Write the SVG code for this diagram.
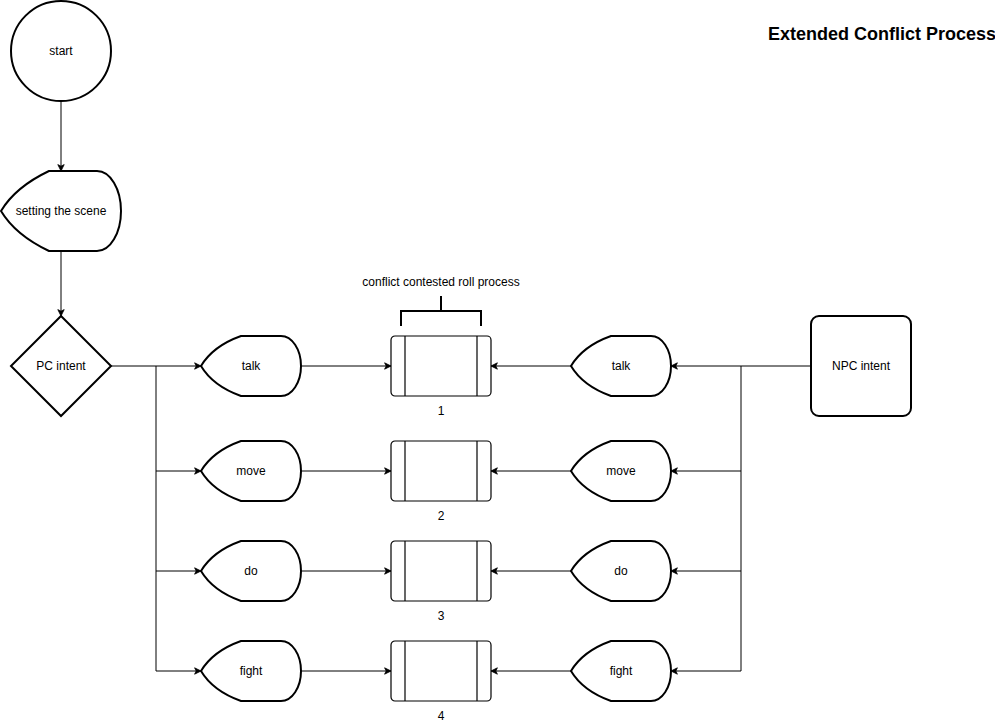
<svg xmlns="http://www.w3.org/2000/svg" width="995" height="722" viewBox="0 0 995 722">
  <style>
    .shape { fill: #ffffff; stroke: #000000; stroke-width: 2; }
    .box { fill: #ffffff; stroke: #000000; stroke-width: 1.2; }
    .edge { fill: none; stroke: #000000; stroke-width: 1; }
    .bracket { fill: none; stroke: #000000; stroke-width: 2; }
    .label { font-family: "Liberation Sans", Arial, sans-serif; font-size: 12px; fill: #000000; text-anchor: middle; dominant-baseline: central; }
    .title { font-family: "Liberation Sans", Arial, sans-serif; font-size: 18px; font-weight: bold; fill: #000000; text-anchor: end; dominant-baseline: central; }
  </style>
  <defs>
    <marker id="arrow" viewBox="0 0 10 10" refX="9" refY="5" markerWidth="8" markerHeight="8" markerUnits="userSpaceOnUse" orient="auto">
      <path d="M1,1 L9,5 L1,9 L3,5 Z" fill="#000000" stroke="#000000" stroke-width="1"/>
    </marker>
    <!-- display shape, 100x60, origin at top-left -->
    <path id="display" d="M0,30 Q12,10 40,0 L80,0 A20 30 0 0 1 100,30 A20 30 0 0 1 80,60 L40,60 Q12,50 0,30 Z"/>
    <!-- predefined process box, 100x60 -->
    <g id="process">
      <rect x="0" y="0" width="100" height="60" rx="4" ry="4" class="box"/>
      <line x1="14" y1="0" x2="14" y2="60" class="box"/>
      <line x1="86" y1="0" x2="86" y2="60" class="box"/>
    </g>
  </defs>

  <rect x="0" y="0" width="995" height="722" fill="#ffffff"/>

  <text class="title" x="996" y="34">Extended Conflict Process</text>

  <g id="connectors">
    <path class="edge" d="M61,101 L61,171" marker-end="url(#arrow)"/>
    <path class="edge" d="M61,251 L61,316" marker-end="url(#arrow)"/>
    <!-- PC intent fan-out -->
    <path class="edge" d="M111,366 L201,366" marker-end="url(#arrow)"/>
    <path class="edge" d="M156,366 L156,671"/>
    <path class="edge" d="M156,471 L201,471" marker-end="url(#arrow)"/>
    <path class="edge" d="M156,571 L201,571" marker-end="url(#arrow)"/>
    <path class="edge" d="M156,671 L201,671" marker-end="url(#arrow)"/>
    <!-- PC actions to processes -->
    <path class="edge" d="M301,366 L391,366" marker-end="url(#arrow)"/>
    <path class="edge" d="M301,471 L391,471" marker-end="url(#arrow)"/>
    <path class="edge" d="M301,571 L391,571" marker-end="url(#arrow)"/>
    <path class="edge" d="M301,671 L391,671" marker-end="url(#arrow)"/>
    <!-- NPC intent fan-out -->
    <path class="edge" d="M811,366 L671,366" marker-end="url(#arrow)"/>
    <path class="edge" d="M741,366 L741,671"/>
    <path class="edge" d="M741,471 L671,471" marker-end="url(#arrow)"/>
    <path class="edge" d="M741,571 L671,571" marker-end="url(#arrow)"/>
    <path class="edge" d="M741,671 L671,671" marker-end="url(#arrow)"/>
    <!-- NPC actions to processes -->
    <path class="edge" d="M571,366 L491,366" marker-end="url(#arrow)"/>
    <path class="edge" d="M571,471 L491,471" marker-end="url(#arrow)"/>
    <path class="edge" d="M571,571 L491,571" marker-end="url(#arrow)"/>
    <path class="edge" d="M571,671 L491,671" marker-end="url(#arrow)"/>
  </g>

  <g id="start">
    <circle cx="61" cy="51" r="50" class="shape"/>
    <text class="label" x="61" y="51">start</text>
  </g>

  <g id="setting-the-scene">
    <path class="shape" d="M1,211 Q15.4,187 49,171 L97,171 A24 40 0 0 1 121,211 A24 40 0 0 1 97,251 L49,251 Q15.4,235 1,211 Z"/>
    <text class="label" x="61" y="211">setting the scene</text>
  </g>

  <g id="pc-intent">
    <path class="shape" d="M61,316 L111,366 L61,416 L11,366 Z"/>
    <text class="label" x="61" y="366">PC intent</text>
  </g>

  <g id="npc-intent">
    <rect x="811" y="316" width="100" height="100" rx="8" ry="8" class="shape"/>
    <text class="label" x="861" y="366">NPC intent</text>
  </g>

  <g id="pc-talk">
    <use href="#display" x="201" y="336" class="shape"/>
    <text class="label" x="251" y="366">talk</text>
  </g>
  <g id="pc-move">
    <use href="#display" x="201" y="441" class="shape"/>
    <text class="label" x="251" y="471">move</text>
  </g>
  <g id="pc-do">
    <use href="#display" x="201" y="541" class="shape"/>
    <text class="label" x="251" y="571">do</text>
  </g>
  <g id="pc-fight">
    <use href="#display" x="201" y="641" class="shape"/>
    <text class="label" x="251" y="671">fight</text>
  </g>

  <g id="npc-talk">
    <use href="#display" x="571" y="336" class="shape"/>
    <text class="label" x="621" y="366">talk</text>
  </g>
  <g id="npc-move">
    <use href="#display" x="571" y="441" class="shape"/>
    <text class="label" x="621" y="471">move</text>
  </g>
  <g id="npc-do">
    <use href="#display" x="571" y="541" class="shape"/>
    <text class="label" x="621" y="571">do</text>
  </g>
  <g id="npc-fight">
    <use href="#display" x="571" y="641" class="shape"/>
    <text class="label" x="621" y="671">fight</text>
  </g>

  <g id="roll-bracket">
    <path class="bracket" d="M401,326 L401,311 L481,311 L481,326 M441,311 L441,296"/>
    <text class="label" x="441" y="282">conflict contested roll process</text>
  </g>

  <g id="process-1">
    <use href="#process" x="391" y="336"/>
    <text class="label" x="441" y="411">1</text>
  </g>
  <g id="process-2">
    <use href="#process" x="391" y="441"/>
    <text class="label" x="441" y="516">2</text>
  </g>
  <g id="process-3">
    <use href="#process" x="391" y="541"/>
    <text class="label" x="441" y="616">3</text>
  </g>
  <g id="process-4">
    <use href="#process" x="391" y="641"/>
    <text class="label" x="441" y="716">4</text>
  </g>
</svg>
